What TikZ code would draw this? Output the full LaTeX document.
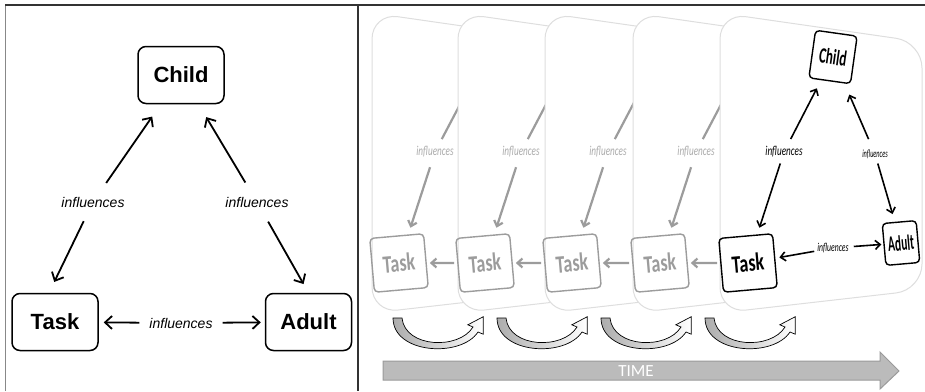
\documentclass[tikz,border=0pt]{standalone}
\usepackage{fontspec}
\setmainfont{Liberation Sans}
\newfontfamily\condfont{Carlito}
\usepackage{tikz}
\usetikzlibrary{arrows.meta, positioning, calc}
\definecolor{frame_dark}{HTML}{333333}
\definecolor{frame_light}{HTML}{888888}
\definecolor{card_gray}{HTML}{DEDEDE}
\definecolor{fade_gray}{HTML}{9C9C9C}
\definecolor{fade_label}{HTML}{ABABAB}
\definecolor{time_gray}{HTML}{BBBBBB}
\definecolor{time_edge}{HTML}{9A9A9A}
\newcommand{\condtext}[2]{\scalebox{#1}[1]{#2}}

\begin{document}
\begin{tikzpicture}[
        x=1pt, y=-1pt,
        box/.style={rectangle, rounded corners=8pt, draw, line width=1.5pt, minimum width=86pt, minimum height=57pt, font=\fontsize{22}{24}\selectfont\bfseries},
        infl/.style={font=\fontsize{14}{16}\selectfont\itshape, inner sep=3pt},
        conn/.style={-{Straight Barb[length=7pt, width=13pt]}, line width=1.8pt},
        card/.style={draw=card_gray, fill=white, line width=1pt, rounded corners=26pt},
        cardbox/.style={rectangle, rounded corners=4pt, draw, line width=1.4pt, font=\condfont\bfseries\fontsize{25}{26}\selectfont},
        task_box/.style={cardbox, minimum width=54pt, minimum height=54pt, rotate=5},
        fade_task/.style={task_box, draw=fade_gray, text=fade_gray},
        child_box/.style={cardbox, minimum width=42pt, minimum height=48pt, rotate=-8, font=\condfont\bfseries\fontsize{22}{24}\selectfont},
        adult_box/.style={cardbox, minimum width=34pt, minimum height=42pt, rotate=5, font=\condfont\bfseries\fontsize{22}{24}\selectfont},
        card_infl/.style={font=\condfont\itshape\fontsize{13.5}{15}\selectfont, inner sep=2pt},
        fade_infl/.style={card_infl, text=fade_label},
        card_conn/.style={-{Straight Barb[length=5pt, width=9pt]}, line width=1.6pt},
        fade_conn/.style={card_conn, line width=2.2pt, fade_gray},
        swoosh_style/.style={draw=black, line width=0.7pt, left color=gray!65, right color=white},
        swoosh/.pic={
            \draw[swoosh_style] (0,0) -- (9,0) .. controls (12,30) and (66,32) .. (80,9)
                -- (74.8,6.8) -- (90.3,-1.3) -- (90.2,16.2) -- (85,14)
                .. controls (68,40) and (0,36) .. (0,0) -- cycle;
        },
    ]
        \useasboundingbox (0,0) rectangle (925,391);

        % Frame
        \draw[frame_light, line width=1pt] (5,391) -- (5,5);
        \draw[frame_dark, line width=1.3pt] (5,5) -- (925,5);
        \draw[frame_dark, line width=1.3pt] (358,5) -- (358,391);

        % Left panel
        \node[box] (child) at (181,75) {Child};
        \node[box] (task) at (55,322) {Task};
        \node[box, right=166pt of task] (adult) {Adult};

        \node[infl] (lblL) at (93,202) {influences};
        \node[infl] (lblR) at (257,202) {influences};
        \node[infl] (lblB) at (181,323) {influences};

        \draw[conn, shorten <=13pt, shorten >=15pt] (lblL) -- (child);
        \draw[conn, shorten <=12pt, shorten >=12pt] (lblL) -- ([xshift=-6pt]task.north);
        \draw[conn, shorten <=13pt, shorten >=15pt] (lblR) -- (child);
        \draw[conn, shorten <=13pt, shorten >=10pt] (lblR) -- (adult.north);
        \draw[conn, shorten <=7pt, shorten >=5pt] (lblB) -- (task);
        \draw[conn, shorten <=7pt, shorten >=4pt] (lblB) -- (adult);

        % Earlier moments, faded
        \foreach \cx [count=\k] in {372, 458, 545, 633} {
            \draw[card] (\cx,13) -- (\cx+202,42) -- (\cx+202,290) -- (\cx,313) -- cycle;
            \node[fade_task] (task\k) at (\cx+27,263) {\condtext{0.72}{Task}};
            \node[fade_infl] (lbl\k) at (\cx+63,152) {\condtext{0.68}{influences}};
            \coordinate (up\k) at (\cx+113,57);
            \draw[fade_conn, shorten <=6pt] (lbl\k) -- (up\k);
            \draw[fade_conn, shorten <=8pt, shorten >=7pt] (lbl\k) -- (task\k);
        }

        % Current moment
        \draw[card] (720,13) -- (922,42) -- (922,290) -- (720,313) -- cycle;
        \node[task_box] (task5) at (748,263) {\condtext{0.72}{Task}};
        \node[child_box] (child5) at (833,57) {\condtext{0.6}{Child}};
        \node[adult_box] (adult5) at (901,243) {\condtext{0.52}{Adult}};

        \node[card_infl] (lblA5) at (784,152) {\condtext{0.68}{influences}};
        \node[card_infl, font=\condfont\itshape\fontsize{11}{12}\selectfont] (lblB5) at (875,154) {\condtext{0.57}{influences}};
        \node[card_infl, font=\condfont\itshape\fontsize{12}{13}\selectfont] (lblC5) at (833,248) {\condtext{0.64}{influences}};

        \draw[card_conn, shorten <=6pt, shorten >=9pt] (lblA5) -- (child5);
        \draw[card_conn, shorten <=4pt, shorten >=7pt] (lblA5) -- (task5);
        \draw[card_conn, shorten <=9pt, shorten >=12pt] (lblB5) -- (child5);
        \draw[card_conn, shorten <=3pt, shorten >=8pt] (lblB5) -- (adult5);
        \draw[card_conn, shorten <=1pt, shorten >=4pt] (lblC5) -- (task5);
        \draw[card_conn, shorten <=3pt, shorten >=2pt] (lblC5) -- (adult5);

        % Task to task
        \foreach \a/\b in {2/1, 3/2, 4/3, 5/4}
            \draw[fade_conn, shorten <=3pt, shorten >=3pt] (task\a) -- (task\b);

        % Carry-over arrows
        \foreach \sx in {393, 497, 601, 705}
            \pic at (\sx,318) {swoosh};

        % Time line
        \draw[fill=time_gray, draw=time_edge, line width=1pt]
            (383,361) -- (880,361) -- (880,352) -- (899,371) -- (880,389) -- (880,380) -- (383,380) -- cycle;
        \node[font=\condfont\fontsize{17}{18}\selectfont, text=white] (time) at (636,371) {TIME};
    \end{tikzpicture}
\end{document}
